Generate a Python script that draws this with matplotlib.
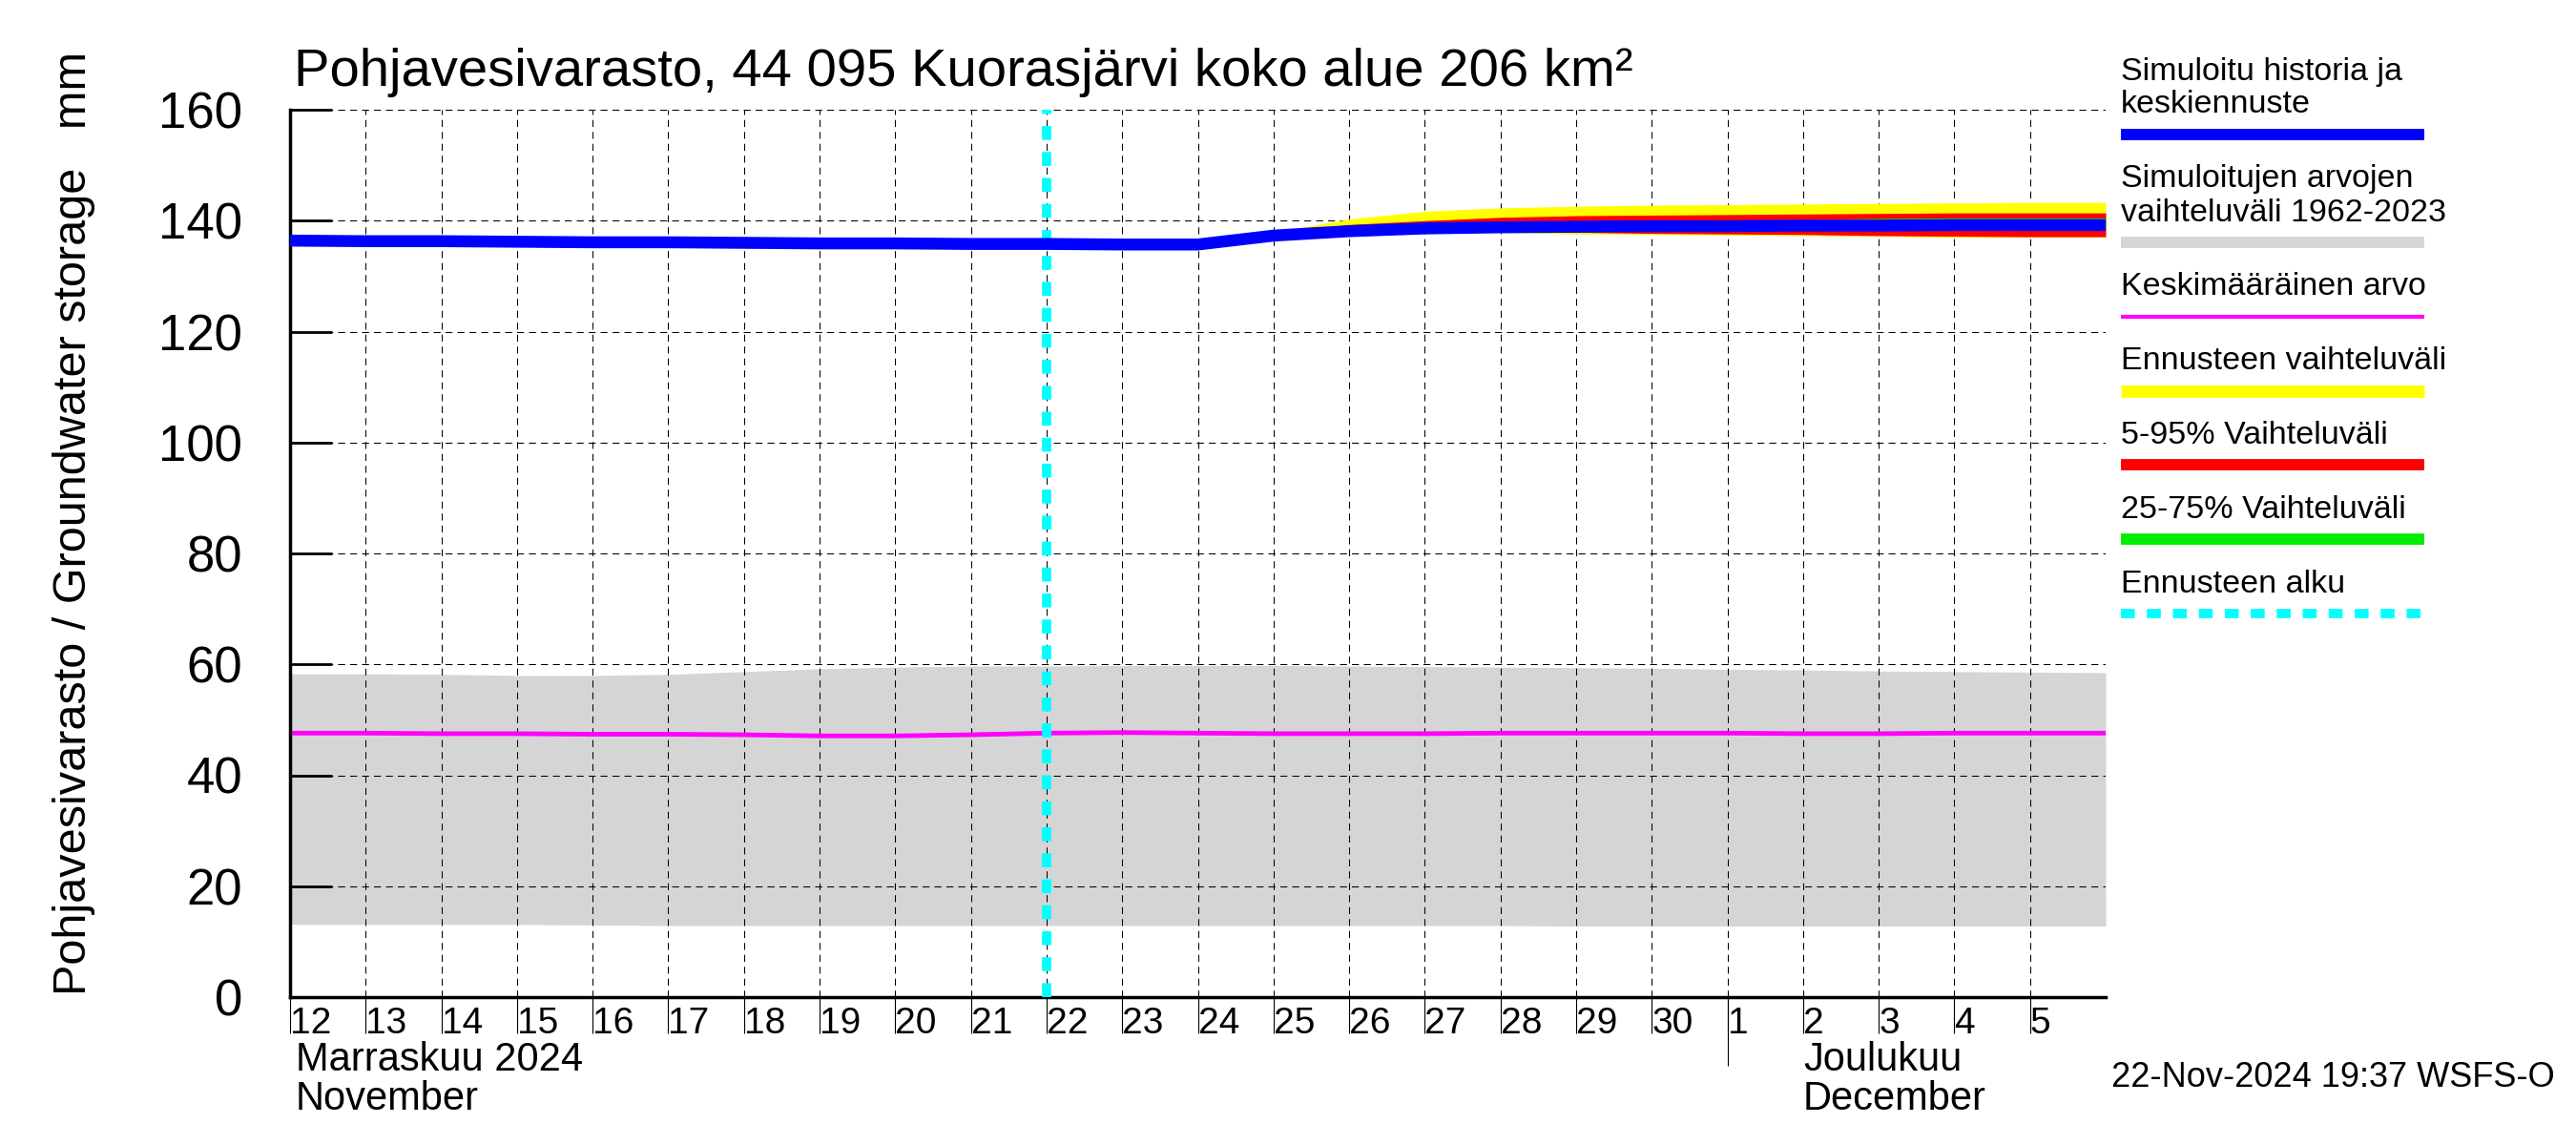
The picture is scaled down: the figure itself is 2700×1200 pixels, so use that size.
import matplotlib
matplotlib.use('Agg')
import matplotlib.pyplot as plt
from matplotlib.lines import Line2D
import pandas as pd

plt.rcParams['font.family'] = ['Liberation Sans', 'DejaVu Sans']

# daily values, 12 Nov - 6 Dec 2024
days = pd.date_range('2024-11-12', '2024-12-06', freq='D')
median = [136.4, 136.3, 136.3, 136.2, 136.1, 136.1, 136.0, 135.9, 135.9, 135.8,
          135.8, 135.7, 135.7, 137.3, 138.1, 138.6, 138.8, 138.9, 139.0, 139.0,
          139.1, 139.1, 139.2, 139.2, 139.2]
hist_lo = [13.1, 13.1, 13.1, 13.1, 13.0, 12.9, 12.9, 12.9, 12.9, 12.9,
           12.9, 12.9, 12.9, 12.9, 12.9, 12.9, 12.9, 12.8, 12.8, 12.8,
           12.8, 12.8, 12.8, 12.8, 12.8]
hist_hi = [58.3, 58.3, 58.2, 58.0, 58.0, 58.2, 58.7, 59.2, 59.5, 59.7,
           59.7, 59.8, 59.8, 59.8, 59.7, 59.6, 59.5, 59.4, 59.3, 59.1,
           59.0, 58.8, 58.7, 58.6, 58.5]
mean = [47.6, 47.6, 47.5, 47.5, 47.4, 47.4, 47.3, 47.1, 47.1, 47.3,
        47.6, 47.7, 47.6, 47.5, 47.5, 47.5, 47.6, 47.6, 47.6, 47.6,
        47.5, 47.5, 47.6, 47.6, 47.6]

# forecast, 22 Nov - 6 Dec
fc_days = pd.date_range('2024-11-22', '2024-12-06', freq='D')
yellow_lo = [135.8, 135.7, 135.7, 137.1, 137.8, 138.1, 137.9, 137.6, 137.5, 137.4, 137.3, 137.2, 137.0, 137.0, 137.0]
yellow_hi = [135.8, 135.7, 135.8, 137.9, 140.3, 141.7, 142.3, 142.6, 142.8, 142.9, 143.0, 143.1, 143.2, 143.3, 143.3]
red_lo = [135.8, 135.7, 135.7, 137.2, 137.9, 138.1, 138.0, 137.9, 137.7, 137.6, 137.5, 137.3, 137.2, 137.1, 137.1]
red_hi = [135.8, 135.7, 135.8, 137.7, 139.3, 140.0, 140.6, 140.9, 141.0, 141.1, 141.2, 141.3, 141.4, 141.4, 141.4]
green_lo = [135.8, 135.7, 135.7, 137.2, 138.0, 138.4, 138.6, 138.7, 138.8, 138.8, 138.9, 138.9, 139.0, 139.0, 139.0]
green_hi = [135.8, 135.7, 135.7, 137.5, 138.6, 139.1, 139.5, 139.8, 140.0, 140.1, 140.2, 140.4, 140.5, 140.5, 140.5]

forecast_start = pd.Timestamp('2024-11-22')
month_start = pd.Timestamp('2024-12-01')
tick_days = pd.date_range('2024-11-12', '2024-12-05', freq='D')
tick_labels = [str(d.day) for d in tick_days]

W, H = 2700, 1200


def fx(x):
    return x / W


def fy(y):
    return 1 - y / H


fig = plt.figure(figsize=(27, 12), dpi=100)
ax = fig.add_axes([fx(304), fy(1045), fx(2207) - fx(304), fy(115) - fy(1045)])

ax.fill_between(days, hist_lo, hist_hi, color='#d5d5d5', linewidth=0, zorder=0.3)
ax.plot(days, mean, color='#ff00ff', linewidth=3.5, zorder=2)
ax.fill_between(fc_days, yellow_lo, yellow_hi, color='#ffff00', linewidth=0, zorder=2.1)
ax.fill_between(fc_days, red_lo, red_hi, color='#ff0000', linewidth=0, zorder=2.2)
ax.fill_between(fc_days, green_lo, green_hi, color='#00ee00', linewidth=0, zorder=2.3)
ax.axvline(forecast_start, color='#00ffff', linewidth=7, linestyle=(0, (1.5, 1.3)), zorder=3)
ax.plot(days, median, color='#0000ff', linewidth=9, zorder=4, solid_capstyle='butt')

ax.set_xlim(days[0], days[-1])
ax.set_ylim(0, 160)
ax.set_yticks(range(0, 161, 20))
ax.set_xticks(tick_days)
ax.set_xticklabels(tick_labels)
for lab in ax.get_xticklabels():
    lab.set_horizontalalignment('left')
ax.xaxis.remove_overlapping_locs = False
ax.set_xticks([month_start], minor=True)

ax.set_axisbelow(True)
ax.grid(True, which='major', color='black', linestyle=(0, (7, 5)), linewidth=0.75)
ax.tick_params(axis='y', direction='in', length=32, width=2, pad=36, labelsize=38)
ax.tick_params(axis='x', which='major', direction='out', length=27, width=0.8, pad=-20, labelsize=28)
ax.tick_params(axis='x', which='minor', direction='out', length=52, width=0.8)
for s in ['top', 'right']:
    ax.spines[s].set_visible(False)
for s in ['left', 'bottom']:
    ax.spines[s].set_linewidth(2.5)

fig.text(fx(308), fy(90), 'Pohjavesivarasto, 44 095 Kuorasjärvi koko alue 206 km²',
         fontsize=40.5, va='baseline', ha='left')
fig.text(fx(78), fy(548), 'Pohjavesivarasto / Groundwater storage   mm',
         fontsize=35, rotation=90, va='center', ha='center')
fig.text(fx(310), fy(1122), 'Marraskuu 2024', fontsize=30, va='baseline')
fig.text(fx(310), fy(1163), 'November', fontsize=30, va='baseline')
fig.text(fx(1890), fy(1122), 'Joulukuu', fontsize=30, va='baseline')
fig.text(fx(1890), fy(1163), 'December', fontsize=30, va='baseline')
fig.text(fx(2678), fy(1139), '22-Nov-2024 19:37 WSFS-O', fontsize=26, va='baseline', ha='right')

# legend on the right
leg_x0, leg_x1 = 2223, 2541
legend_items = [
    (['Simuloitu historia ja', 'keskiennuste'], [84, 118], 141, '#0000ff', 8.5, '-'),
    (['Simuloitujen arvojen', 'vaihteluväli 1962-2023'], [196, 232], 254, '#d5d5d5', 8.5, '-'),
    (['Keskimääräinen arvo'], [309], 332, '#ff00ff', 3, '-'),
    (['Ennusteen vaihteluväli'], [387], 410, '#ffff00', 9.5, '-'),
    (['5-95% Vaihteluväli'], [465], 487, '#ff0000', 8.5, '-'),
    (['25-75% Vaihteluväli'], [543], 565, '#00ee00', 8.5, '-'),
    (['Ennusteen alku'], [621], 643, '#00ffff', 7, (0, (1.5, 1.3))),
]
for texts, ys, line_y, col, lw, ls in legend_items:
    for t, y in zip(texts, ys):
        fig.text(fx(leg_x0), fy(y), t, fontsize=24.5, va='baseline', ha='left')
    fig.add_artist(Line2D([fx(leg_x0), fx(leg_x1)], [fy(line_y), fy(line_y)],
                          transform=fig.transFigure, color=col, linewidth=lw,
                          linestyle=ls, solid_capstyle='butt', dash_capstyle='butt'))

fig.savefig('out.png', dpi=100)
